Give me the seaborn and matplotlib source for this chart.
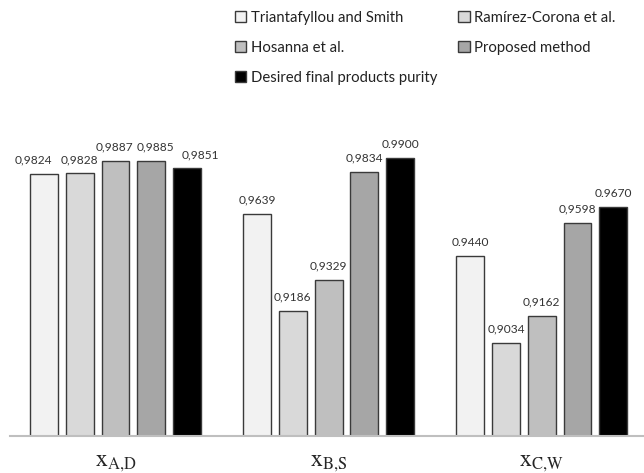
import matplotlib
matplotlib.use("Agg")
import matplotlib.pyplot as plt
import seaborn as sns
import pandas as pd

components = [r"$\mathrm{x}_{\mathrm{A{,}D}}$", r"$\mathrm{x}_{\mathrm{B{,}S}}$", r"$\mathrm{x}_{\mathrm{C{,}W}}$"]
methods = ["Triantafyllou and Smith", "Ramírez-Corona et al.", "Hosanna et al.",
           "Proposed method", "Desired final products purity"]
triantafyllou = [0.9824, 0.9639, 0.9440]
ramirez = [0.9828, 0.9186, 0.9034]
hosanna = [0.9887, 0.9329, 0.9162]
proposed = [0.9885, 0.9834, 0.9598]
desired = [0.9851, 0.9900, 0.9670]
value_labels = [
    ["0,9824", "0,9639", "0.9440"],
    ["0,9828", "0,9186", "0,9034"],
    ["0,9887", "0,9329", "0,9162"],
    ["0,9885", "0,9834", "0,9598"],
    ["0,9851", "0.9900", "0.9670"],
]
colors = ["#F2F2F2", "#D9D9D9", "#BFBFBF", "#A6A6A6", "#000000"]

series = [triantafyllou, ramirez, hosanna, proposed, desired]
rows = []
for m, vals in zip(methods, series):
    for c, v in zip(components, vals):
        rows.append({"component": c, "method": m, "value": v})
df = pd.DataFrame(rows)

sns.set_theme(style="white")
plt.rcParams["font.family"] = ["Lato", "DejaVu Sans"]
plt.rcParams["mathtext.fontset"] = "stix"

fig = plt.figure(figsize=(6.44, 4.73), dpi=100)
ax = fig.add_axes([10 / 644, 37 / 473, 1 - 10 / 644, 0.633])

sns.barplot(data=df, x="component", y="value", hue="method", order=components,
            hue_order=methods, palette=colors, width=0.84, gap=0.22,
            edgecolor="#3a3a3a", linewidth=1.0, ax=ax, legend=True)

# horizontal nudges (pixels) of the first group's value labels, as placed in the reference
first_group_shift_px = [-11, 0, -1.5, 4, 13]
for k, (cont, labs) in enumerate(zip(ax.containers, value_labels)):
    anns = ax.bar_label(cont, labels=labs, padding=6, fontsize=8.6, color="#333333")
    dx_pt = first_group_shift_px[k] * 72 / 100
    anns[0].xyann = (dx_pt, anns[0].xyann[1])

ax.set_ylim(0.86, 1.0)
ax.set_xlim(-0.495, 2.48)
ax.set_xlabel("")
ax.set_ylabel("")
ax.set_yticks([])
ax.tick_params(axis="x", length=0, labelsize=17, pad=12)
for s in ["top", "left", "right"]:
    ax.spines[s].set_visible(False)
ax.spines["bottom"].set_color("#BFBFBF")
ax.spines["bottom"].set_linewidth(1.5)

handles, labels = ax.get_legend_handles_labels()
ax.get_legend().remove()
order = [0, 2, 4, 1, 3]
fig.legend([handles[i] for i in order], [labels[i] for i in order], ncol=2,
           loc="upper left", bbox_to_anchor=(229 / 644, 1 - 5 / 473),
           frameon=False, fontsize=10.7, handlelength=0.75, handleheight=0.75,
           handletextpad=0.3, labelspacing=1.08, columnspacing=1.45,
           borderaxespad=0.0, labelcolor="#222222")

fig.savefig("out.png", dpi=100)
